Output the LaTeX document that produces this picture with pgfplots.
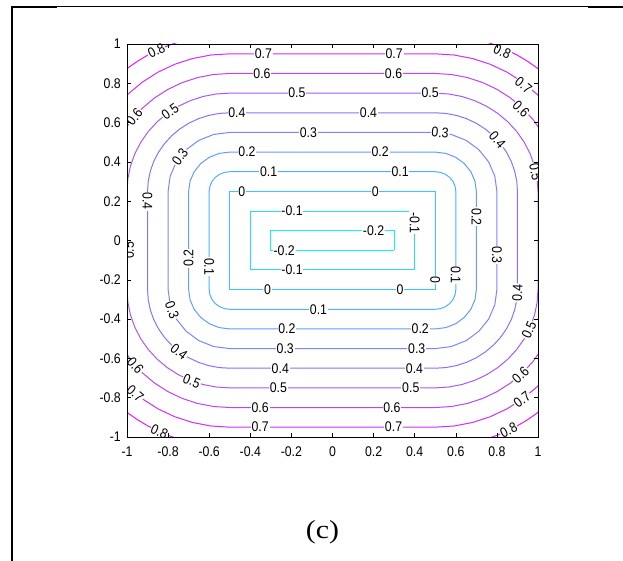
\documentclass[border=0pt]{standalone}
\usepackage{fontspec}
\setmainfont{Liberation Sans}[FakeStretch=0.88]
\newfontfamily\capfont{Liberation Serif}[FakeStretch=1.15]
\usepackage{pgfplots}
\pgfplotsset{compat=1.18}

% MATLAB "cool" colours of the contour levels -0.2 ... 0.8
\definecolor{cA}{rgb}{0.043,0.957,1}
\definecolor{cB}{rgb}{0.130,0.870,1}
\definecolor{cC}{rgb}{0.217,0.783,1}
\definecolor{cD}{rgb}{0.304,0.696,1}
\definecolor{cE}{rgb}{0.391,0.609,1}
\definecolor{cF}{rgb}{0.478,0.522,1}
\definecolor{cG}{rgb}{0.565,0.435,1}
\definecolor{cH}{rgb}{0.652,0.348,1}
\definecolor{cI}{rgb}{0.739,0.261,1}
\definecolor{cJ}{rgb}{0.826,0.174,1}
\definecolor{cK}{rgb}{0.913,0.087,1}

\tikzset{lab/.style={fill=white, inner sep=0.8pt, font=\fontsize{14}{15}\selectfont}}
\newcommand\lbl[4]{\node[lab, rotate=#3] at (axis cs:#1,#2) {#4};}

\begin{document}
\begin{tikzpicture}
\useasboundingbox (0pt,0pt) rectangle (623pt,-561pt);
% frame of the figure cell
\draw[line width=1pt] (12pt,-6.3pt) -- (623pt,-6.3pt);
\draw[line width=2pt] (11pt,-6.7pt) -- (57pt,-6.7pt);
\draw[line width=2pt] (588pt,-6.7pt) -- (623pt,-6.7pt);
\draw[line width=2pt] (12pt,-5.7pt) -- (12pt,-561pt);
\node[font=\capfont\fontsize{26}{28}\selectfont] at (322.5pt,-532pt) {(c)};

\begin{axis}[
  at={(127pt,-437pt)}, anchor=south west,
  scale only axis, width=411pt, height=393pt,
  xmin=-1, xmax=1, ymin=-1, ymax=1,
  xtick={-1,-0.8,-0.6,-0.4,-0.2,0,0.2,0.4,0.6,0.8,1},
  ytick={-1,-0.8,-0.6,-0.4,-0.2,0,0.2,0.4,0.6,0.8,1},
  tick align=inside, major tick length=4pt,
  tick style={black, line width=0.6pt},
  axis line style={line width=0.8pt},
  /pgf/number format/assume math mode=true,
  tick label style={font=\fontsize{14}{16}\selectfont, inner sep=0pt},
  xticklabel style={yshift=-10pt},
  yticklabel style={xshift=-6pt},
  axis on top,
  every axis plot/.append style={line width=1pt, mark=none},
]
% level -0.2
\addplot[cA] coordinates {(0.3,-0.05) (0.3,0.05) (-0.3,0.05) (-0.3,-0.05) (0.3,-0.05)};
% level -0.1
\addplot[cB] coordinates {(0.4,-0.15) (0.4,0.15) (-0.4,0.15) (-0.4,-0.15) (0.4,-0.15)};
% level 0
\addplot[cC] coordinates {(0.5,-0.25) (0.5,0.25) (-0.5,0.25) (-0.5,-0.25) (0.5,-0.25)};
% level 0.1
\addplot[cD] coordinates {
(0.6,-0.25) (0.6,0.25) (0.5966,0.2759) (0.5866,0.3) (0.5707,0.3207) (0.55,0.3366) (0.5259,0.3466) (0.5,0.35)
(-0.5,0.35) (-0.5259,0.3466) (-0.55,0.3366) (-0.5707,0.3207) (-0.5866,0.3) (-0.5966,0.2759) (-0.6,0.25)
(-0.6,-0.25) (-0.5966,-0.2759) (-0.5866,-0.3) (-0.5707,-0.3207) (-0.55,-0.3366) (-0.5259,-0.3466) (-0.5,-0.35)
(0.5,-0.35) (0.5259,-0.3466) (0.55,-0.3366) (0.5707,-0.3207) (0.5866,-0.3) (0.5966,-0.2759) (0.6,-0.25)};
% level 0.2
\addplot[cE] coordinates {
(0.7,-0.25) (0.7,0.25) (0.6932,0.3018) (0.6732,0.35) (0.6414,0.3914) (0.6,0.4232) (0.5518,0.4432) (0.5,0.45)
(-0.5,0.45) (-0.5518,0.4432) (-0.6,0.4232) (-0.6414,0.3914) (-0.6732,0.35) (-0.6932,0.3018) (-0.7,0.25)
(-0.7,-0.25) (-0.6932,-0.3018) (-0.6732,-0.35) (-0.6414,-0.3914) (-0.6,-0.4232) (-0.5518,-0.4432) (-0.5,-0.45)
(0.5,-0.45) (0.5518,-0.4432) (0.6,-0.4232) (0.6414,-0.3914) (0.6732,-0.35) (0.6932,-0.3018) (0.7,-0.25)};
% level 0.3
\addplot[cF] coordinates {
(0.8,-0.25) (0.8,0.25) (0.7898,0.3276) (0.7598,0.4) (0.7121,0.4621) (0.65,0.5098) (0.5776,0.5398) (0.5,0.55)
(-0.5,0.55) (-0.5776,0.5398) (-0.65,0.5098) (-0.7121,0.4621) (-0.7598,0.4) (-0.7898,0.3276) (-0.8,0.25)
(-0.8,-0.25) (-0.7898,-0.3276) (-0.7598,-0.4) (-0.7121,-0.4621) (-0.65,-0.5098) (-0.5776,-0.5398) (-0.5,-0.55)
(0.5,-0.55) (0.5776,-0.5398) (0.65,-0.5098) (0.7121,-0.4621) (0.7598,-0.4) (0.7898,-0.3276) (0.8,-0.25)};
% level 0.4
\addplot[cG] coordinates {
(0.9,-0.25) (0.9,0.25) (0.8966,0.3022) (0.8864,0.3535) (0.8696,0.4031) (0.8464,0.45) (0.8173,0.4935) (0.7828,0.5328) (0.7435,0.5673) (0.7,0.5964) (0.6531,0.6196) (0.6035,0.6364) (0.5522,0.6466) (0.5,0.65)
(-0.5,0.65) (-0.5522,0.6466) (-0.6035,0.6364) (-0.6531,0.6196) (-0.7,0.5964) (-0.7435,0.5673) (-0.7828,0.5328) (-0.8173,0.4935) (-0.8464,0.45) (-0.8696,0.4031) (-0.8864,0.3535) (-0.8966,0.3022) (-0.9,0.25)
(-0.9,-0.25) (-0.8966,-0.3022) (-0.8864,-0.3535) (-0.8696,-0.4031) (-0.8464,-0.45) (-0.8173,-0.4935) (-0.7828,-0.5328) (-0.7435,-0.5673) (-0.7,-0.5964) (-0.6531,-0.6196) (-0.6035,-0.6364) (-0.5522,-0.6466) (-0.5,-0.65)
(0.5,-0.65) (0.5522,-0.6466) (0.6035,-0.6364) (0.6531,-0.6196) (0.7,-0.5964) (0.7435,-0.5673) (0.7828,-0.5328) (0.8173,-0.4935) (0.8464,-0.45) (0.8696,-0.4031) (0.8864,-0.3535) (0.8966,-0.3022) (0.9,-0.25)};
% level 0.5
\addplot[cH] coordinates {
(1,-0.25) (1,0.25) (0.9957,0.3153) (0.983,0.3794) (0.9619,0.4413) (0.933,0.5) (0.8967,0.5544) (0.8536,0.6036) (0.8044,0.6467) (0.75,0.683) (0.6913,0.7119) (0.6294,0.733) (0.5653,0.7457) (0.5,0.75)
(-0.5,0.75) (-0.5653,0.7457) (-0.6294,0.733) (-0.6913,0.7119) (-0.75,0.683) (-0.8044,0.6467) (-0.8536,0.6036) (-0.8967,0.5544) (-0.933,0.5) (-0.9619,0.4413) (-0.983,0.3794) (-0.9957,0.3153) (-1,0.25)
(-1,-0.25) (-0.9957,-0.3153) (-0.983,-0.3794) (-0.9619,-0.4413) (-0.933,-0.5) (-0.8967,-0.5544) (-0.8536,-0.6036) (-0.8044,-0.6467) (-0.75,-0.683) (-0.6913,-0.7119) (-0.6294,-0.733) (-0.5653,-0.7457) (-0.5,-0.75)
(0.5,-0.75) (0.5653,-0.7457) (0.6294,-0.733) (0.6913,-0.7119) (0.75,-0.683) (0.8044,-0.6467) (0.8536,-0.6036) (0.8967,-0.5544) (0.933,-0.5) (0.9619,-0.4413) (0.983,-0.3794) (0.9957,-0.3153) (1,-0.25)};
% level 0.6
\addplot[cI] coordinates {
(1.1,-0.25) (1.1,0.25) (1.0796,0.4053) (1.0196,0.55) (0.976,0.6153) (0.9243,0.6743) (0.8653,0.726) (0.8,0.7696) (0.7296,0.8043) (0.6553,0.8296) (0.5783,0.8449) (0.5,0.85)
(-0.5,0.85) (-0.5783,0.8449) (-0.6553,0.8296) (-0.7296,0.8043) (-0.8,0.7696) (-0.8653,0.726) (-0.9243,0.6743) (-0.976,0.6153) (-1.0196,0.55) (-1.0796,0.4053) (-1.1,0.25)
(-1.1,-0.25) (-1.0796,-0.4053) (-1.0196,-0.55) (-0.976,-0.6153) (-0.9243,-0.6743) (-0.8653,-0.726) (-0.8,-0.7696) (-0.7296,-0.8043) (-0.6553,-0.8296) (-0.5783,-0.8449) (-0.5,-0.85)
(0.5,-0.85) (0.5783,-0.8449) (0.6553,-0.8296) (0.7296,-0.8043) (0.8,-0.7696) (0.8653,-0.726) (0.9243,-0.6743) (0.976,-0.6153) (1.0196,-0.55) (1.0796,-0.4053) (1.1,-0.25)};
% level 0.7
\addplot[cJ] coordinates {
(1.2,-0.25) (1.2,0.25) (1.1062,0.6) (1.0553,0.6761) (0.995,0.745) (0.9261,0.8053) (0.85,0.8562) (0.7679,0.8967) (0.6812,0.9261) (0.5914,0.944) (0.5,0.95)
(-0.5,0.95) (-0.5914,0.944) (-0.6812,0.9261) (-0.7679,0.8967) (-0.85,0.8562) (-0.9261,0.8053) (-0.995,0.745) (-1.0553,0.6761) (-1.1062,0.6) (-1.2,0.25)
(-1.2,-0.25) (-1.1062,-0.6) (-1.0553,-0.6761) (-0.995,-0.745) (-0.9261,-0.8053) (-0.85,-0.8562) (-0.7679,-0.8967) (-0.6812,-0.9261) (-0.5914,-0.944) (-0.5,-0.95)
(0.5,-0.95) (0.5914,-0.944) (0.6812,-0.9261) (0.7679,-0.8967) (0.85,-0.8562) (0.9261,-0.8053) (0.995,-0.745) (1.0553,-0.6761) (1.1062,-0.6) (1.2,-0.25)};
% level 0.8 (only the corners lie inside the box)
\addplot[cK] coordinates {
(1.0353,0.8445) (0.9926,0.8804) (0.9474,0.9132) (0.9,0.9428) (0.8507,0.969) (0.7997,0.9918) (0.7472,1.0109)
(-0.7472,1.0109) (-0.7997,0.9918) (-0.8507,0.969) (-0.9,0.9428) (-0.9474,0.9132) (-0.9926,0.8804) (-1.0353,0.8445)
(-1.0353,-0.8445) (-0.9926,-0.8804) (-0.9474,-0.9132) (-0.9,-0.9428) (-0.8507,-0.969) (-0.7997,-0.9918) (-0.7472,-1.0109)
(0.7472,-1.0109) (0.7997,-0.9918) (0.8507,-0.969) (0.9,-0.9428) (0.9474,-0.9132) (0.9926,-0.8804) (1.0353,-0.8445)
(1.0353,0.8445)};

% contour labels
\lbl{-0.857}{0.966}{26.5}{0.8}
\lbl{0.826}{0.962}{-24.7}{0.8}
\lbl{-0.842}{-0.973}{-25.3}{0.8}
\lbl{0.857}{-0.966}{26.5}{0.8}

\lbl{-0.336}{0.95}{0}{0.7}
\lbl{0.30}{0.95}{0}{0.7}
\lbl{0.93}{0.79}{-38.5}{0.7}
\lbl{-0.96}{-0.778}{-41}{0.7}
\lbl{-0.352}{-0.95}{0}{0.7}
\lbl{0.297}{-0.95}{0}{0.7}
\lbl{0.923}{-0.808}{37}{0.7}

\lbl{-0.343}{0.85}{0}{0.6}
\lbl{0.297}{0.85}{0}{0.6}
\lbl{0.918}{0.67}{-45}{0.6}
\lbl{-0.964}{0.63}{50.7}{0.6}
\lbl{-0.352}{-0.85}{0}{0.6}
\lbl{0.289}{-0.85}{0}{0.6}
\lbl{-0.959}{-0.636}{-50}{0.6}
\lbl{0.915}{-0.684}{43.7}{0.6}

\lbl{-0.173}{0.75}{0}{0.5}
\lbl{0.475}{0.75}{0}{0.5}
\lbl{-0.79}{0.657}{35.5}{0.5}
\lbl{0.988}{0.35}{-78.4}{0.5}
\lbl{-0.99}{-0.05}{90}{0.5}
\lbl{-0.263}{-0.75}{0}{0.5}
\lbl{0.381}{-0.75}{0}{0.5}
\lbl{-0.685}{-0.715}{-21.7}{0.5}
\lbl{0.956}{-0.456}{65.7}{0.5}

\lbl{-0.465}{0.65}{0}{0.4}
\lbl{0.175}{0.65}{0}{0.4}
\lbl{0.802}{0.512}{-49}{0.4}
\lbl{-0.9}{0.2}{-90}{0.4}
\lbl{-0.254}{-0.65}{0}{0.4}
\lbl{0.399}{-0.65}{0}{0.4}
\lbl{-0.747}{-0.565}{-38}{0.4}
\lbl{0.9}{-0.266}{87.7}{0.4}

\lbl{-0.117}{0.55}{0}{0.3}
\lbl{0.524}{0.548}{-5}{0.3}
\lbl{-0.742}{0.427}{53.9}{0.3}
\lbl{0.8}{-0.074}{-90}{0.3}
\lbl{-0.23}{-0.55}{0}{0.3}
\lbl{0.41}{-0.55}{0}{0.3}
\lbl{-0.781}{-0.354}{-69.7}{0.3}

\lbl{-0.416}{0.45}{0}{0.2}
\lbl{0.232}{0.45}{0}{0.2}
\lbl{-0.7}{-0.09}{90}{0.2}
\lbl{0.7}{0.121}{-90}{0.2}
\lbl{-0.222}{-0.45}{0}{0.2}
\lbl{0.427}{-0.45}{0}{0.2}

\lbl{-0.311}{0.35}{0}{0.1}
\lbl{0.329}{0.35}{0}{0.1}
\lbl{-0.6}{-0.133}{-90}{0.1}
\lbl{0.6}{-0.176}{-90}{0.1}
\lbl{-0.068}{-0.35}{0}{0.1}

\lbl{-0.441}{0.25}{0}{0}
\lbl{0.208}{0.25}{0}{0}
\lbl{0.5}{-0.2}{-90}{0}
\lbl{-0.316}{-0.25}{0}{0}
\lbl{0.329}{-0.25}{0}{0}

\lbl{-0.197}{0.15}{0}{-0.1}
\lbl{0.4}{0.09}{-90}{-0.1}
\lbl{-0.197}{-0.15}{0}{-0.1}

\lbl{0.2}{0.05}{0}{-0.2}
\lbl{-0.235}{-0.05}{0}{-0.2}
\end{axis}
\end{tikzpicture}
\end{document}
